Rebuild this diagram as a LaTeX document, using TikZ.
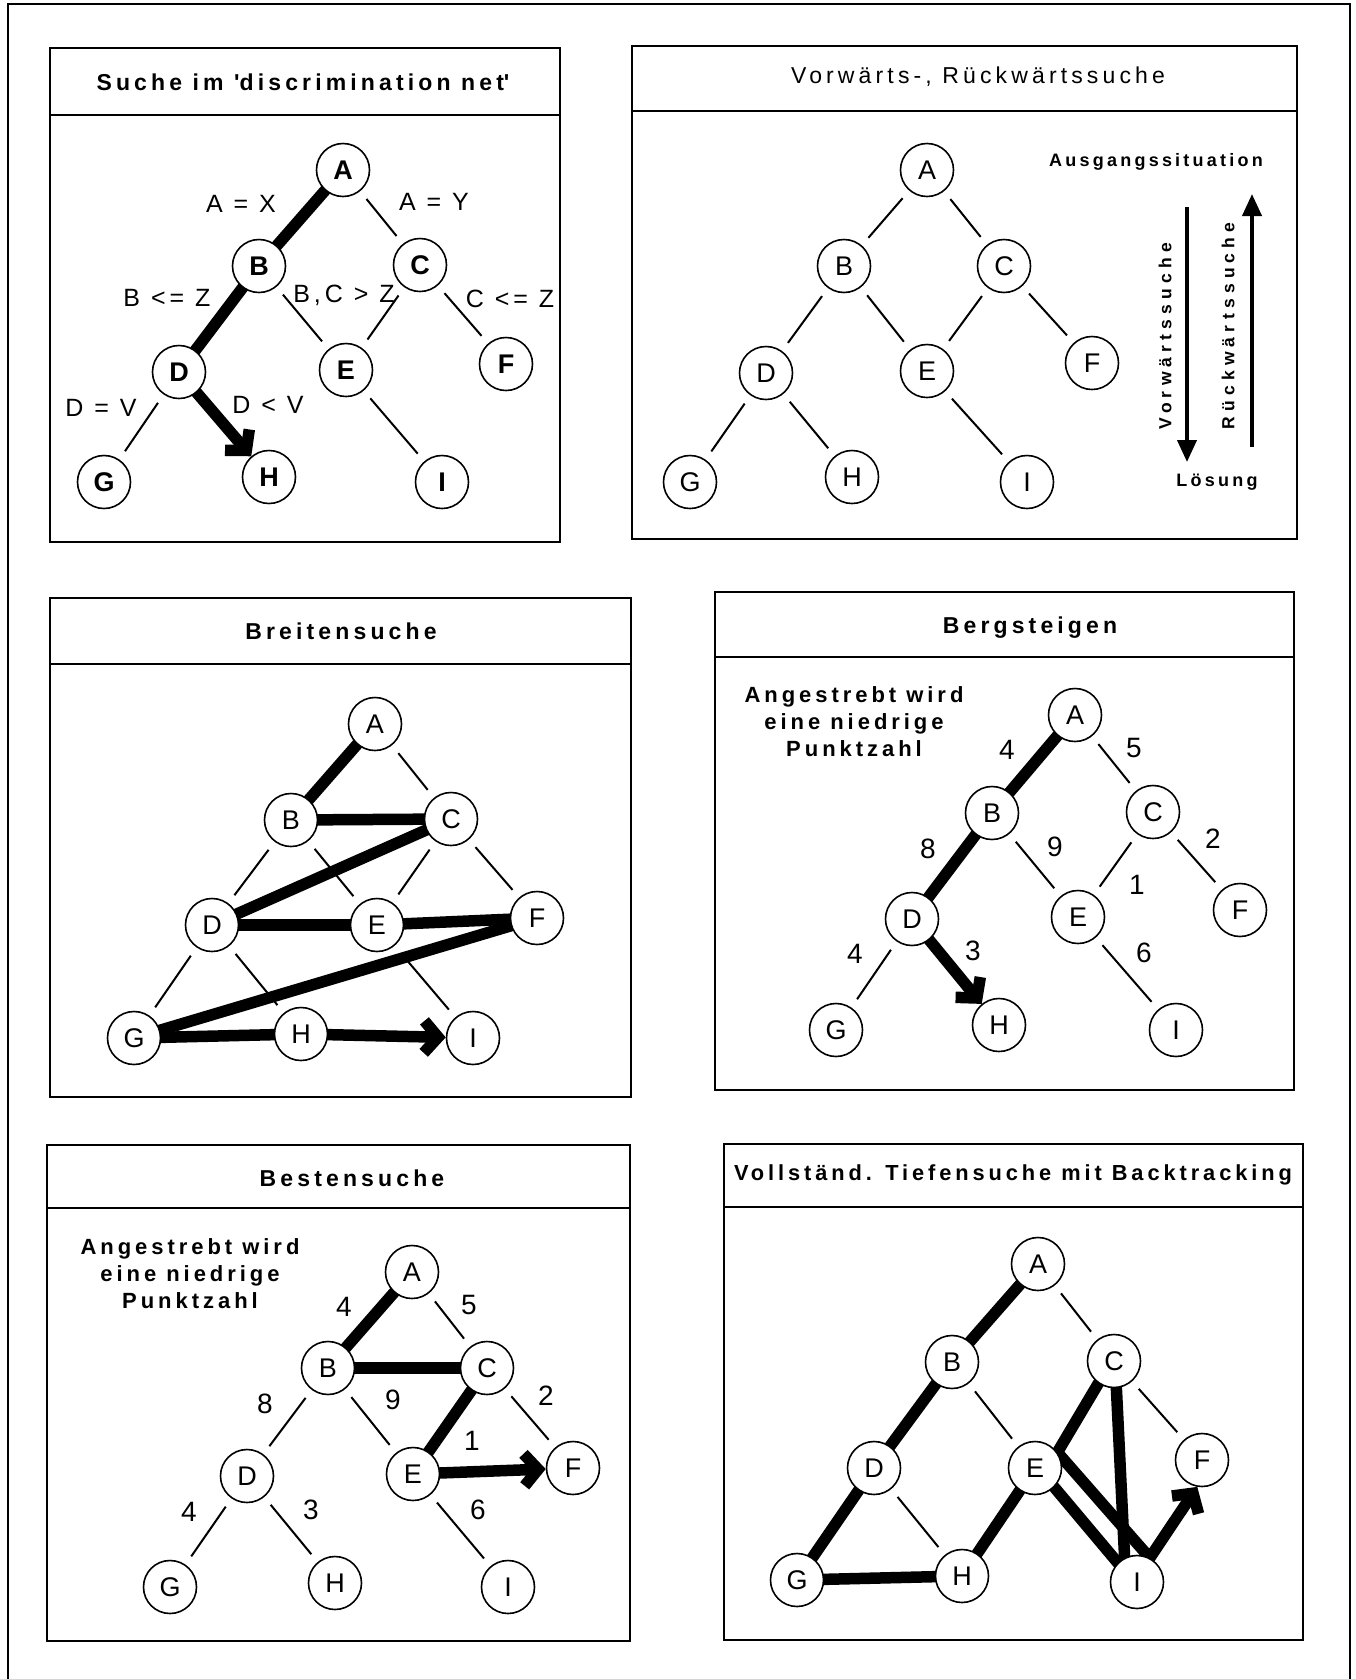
\documentclass[tikz,border=0pt]{standalone}
\usepackage{fontspec}
\setmainfont{Liberation Sans}
\newfontfamily\spc[LetterSpace=18]{Liberation Sans}
\newfontfamily\spcw[LetterSpace=30]{Liberation Sans}
\newfontfamily\lbl[LetterSpace=16]{Liberation Sans}
\usetikzlibrary{arrows.meta}
\pgfdeclarelayer{bg}
\pgfsetlayers{bg,main}
\tikzset{
  box/.style={draw, line width=1.8pt},
  frame/.style={line width=2pt},
  nd/.style={circle, draw, line width=1.6pt, fill=white, minimum size=53pt, inner sep=0pt, font=\fontsize{27}{27}\selectfont},
  ndb/.style={nd, font=\fontsize{27}{27}\selectfont\bfseries},
  te/.style={line width=2pt, shorten <=10pt, shorten >=10pt},
  tk/.style={line width=11.5pt, line cap=round},
  tka/.style={line width=11.5pt, line cap=round, line join=round, -{Straight Barb[length=14pt,width=32pt]}},
  ttl/.style={font=\spc\bfseries\fontsize{23}{26}\selectfont, inner sep=0pt},
  ttls/.style={font=\spc\bfseries\fontsize{21.8}{26}\selectfont, inner sep=0pt},
  ttlr/.style={font=\spc\fontsize{23}{26}\selectfont, inner sep=0pt},
  elab/.style={font=\lbl\fontsize{25}{25}\selectfont, inner sep=0pt},
  num/.style={font=\fontsize{28}{28}\selectfont, inner sep=0pt},
  note/.style={font=\spc\bfseries\fontsize{22}{27}\selectfont, align=center, inner sep=0pt},
  sml/.style={font=\spc\bfseries\fontsize{18}{20}\selectfont, inner sep=0pt},
  vt/.style={font=\spcw\bfseries\fontsize{17.5}{20}\selectfont, inner sep=0pt, rotate=90},
  bigarrow/.style={line width=4pt, -{Triangle[length=22pt,width=19pt]}}
}
\begin{document}
\begin{tikzpicture}[x=1pt,y=-1pt]
\useasboundingbox (0,0) rectangle (1356,1679);
% outer frame
\draw[frame] (8,1679) -- (8,4) -- (1350,4) -- (1350,1679);

% ================= Panel 1 =================
\draw[box] (50,48) rectangle (560,542);
\draw[box] (50,115) -- (560,115);
\node[ttl] (t1) at (303,82) {Suche im \textquotesingle discrimination net\textquotesingle};
\node[ndb] (p1A) at (343,170) {A};
\node[ndb] (p1B) at (259,266) {B};
\node[ndb] (p1C) at (420,265) {C};
\node[ndb] (p1D) at (179,372) {D};
\node[ndb] (p1E) at (346,370) {E};
\node[ndb] (p1F) at (506,364) {F};
\node[ndb] (p1G) at (104,482) {G};
\node[ndb] (p1H) at (269,477) {H};
\node[ndb] (p1I) at (442,482) {I};
\begin{pgfonlayer}{bg}
\draw[tk] (p1A) -- (p1B);
\draw[tk] (p1B) -- (p1D);
\draw[tka] (p1D) -- (p1H);
\draw[te] (p1A) -- (p1C);
\draw[te] (p1B) -- (p1E);
\draw[te] (p1C) -- (p1E);
\draw[te] (p1C) -- (p1F);
\draw[te] (p1D) -- (p1G);
\draw[te] (p1E) -- (p1I);
\end{pgfonlayer}
\node[elab] (l1ax) at (241,204) {A = X};
\node[elab] (l1ay) at (434,202) {A = Y};
\node[elab] (l1bz) at (167,298) {B <= Z};
\node[elab] (l1bc) at (344,295) {B,C > Z};
\node[elab] (l1cz) at (510,299) {C <= Z};
\node[elab] (l1dv) at (101,408) {D = V};
\node[elab] (l1dl) at (268,405) {D < V};

% ================= Panel 2 =================
\draw[box] (632,46) rectangle (1297,539);
\draw[box] (632,111) -- (1297,111);
\node[ttlr] (t2) at (978,77) {Vorwärts-, Rückwärtssuche};
\node[nd] (p2A) at (927,170) {A};
\node[nd] (p2B) at (844,266) {B};
\node[nd] (p2C) at (1004,266) {C};
\node[nd] (p2D) at (766,373) {D};
\node[nd] (p2E) at (927,371) {E};
\node[nd] (p2F) at (1092,363) {F};
\node[nd] (p2G) at (690,482) {G};
\node[nd] (p2H) at (852,477) {H};
\node[nd] (p2I) at (1027,482) {I};
\begin{pgfonlayer}{bg}
\draw[te] (p2A) -- (p2B);
\draw[te] (p2A) -- (p2C);
\draw[te] (p2B) -- (p2D);
\draw[te] (p2B) -- (p2E);
\draw[te] (p2C) -- (p2E);
\draw[te] (p2C) -- (p2F);
\draw[te] (p2D) -- (p2G);
\draw[te] (p2D) -- (p2H);
\draw[te] (p2E) -- (p2I);
\end{pgfonlayer}
\node[sml] (aus) at (1156,162) {Ausgangssituation};
\node[sml] (los) at (1217,482) {Lösung};
\coordinate (v1) at (1187,207);
\coordinate (v2) at (1187,462);
\coordinate (r1) at (1252,447);
\coordinate (r2) at (1252,194);
\draw[bigarrow] (v1) -- (v2);
\draw[bigarrow] (r1) -- (r2);
\node[vt] (vws) at (1165,336) {Vorwärtssuche};
\node[vt] (rws) at (1228,326) {Rückwärtssuche};

% ================= Panel 3 =================
\draw[box] (50,598) rectangle (631,1097);
\draw[box] (50,664) -- (631,664);
\node[ttl] (t3) at (341,631) {Breitensuche};
\node[nd] (p3A) at (375,724) {A};
\node[nd] (p3B) at (291,820) {B};
\node[nd] (p3C) at (451,819) {C};
\node[nd] (p3D) at (212,925) {D};
\node[nd] (p3E) at (377,925) {E};
\node[nd] (p3F) at (537,918) {F};
\node[nd] (p3G) at (134,1038) {G};
\node[nd] (p3H) at (301,1034) {H};
\node[nd] (p3I) at (473,1038) {I};
\begin{pgfonlayer}{bg}
\draw[te] (p3A) -- (p3C);
\draw[te] (p3B) -- (p3D);
\draw[te] (p3B) -- (p3E);
\draw[te] (p3C) -- (p3E);
\draw[te] (p3C) -- (p3F);
\draw[te] (p3D) -- (p3G);
\draw[te] (p3D) -- (p3H);
\draw[te] (p3E) -- (p3I);
\draw[tk] (p3A) -- (p3B);
\draw[tk] (p3B) -- (p3C);
\draw[tk] (p3C) -- (p3D);
\draw[tk] (p3D) -- (p3E);
\draw[tk] (p3E) -- (p3F);
\draw[tk] (p3F) -- (p3G);
\draw[tk] (p3G) -- (p3H);
\draw[tka] (p3H) -- (p3I);
\end{pgfonlayer}

% ================= Panel 4 =================
\draw[box] (715,592) rectangle (1294,1090);
\draw[box] (715,657) -- (1294,657);
\node[ttl] (t4) at (1030,628) {Bergsteigen};
\node[note] (n4) at (854,722) {Angestrebt wird\\eine niedrige\\Punktzahl};
\node[nd] (p4A) at (1075,715) {A};
\node[nd] (p4B) at (992,813) {B};
\node[nd] (p4C) at (1153,812) {C};
\node[nd] (p4D) at (912,919) {D};
\node[nd] (p4E) at (1078,917) {E};
\node[nd] (p4F) at (1240,910) {F};
\node[nd] (p4G) at (836,1030) {G};
\node[nd] (p4H) at (999,1025) {H};
\node[nd] (p4I) at (1176,1030) {I};
\begin{pgfonlayer}{bg}
\draw[te] (p4A) -- (p4C);
\draw[te] (p4B) -- (p4E);
\draw[te] (p4C) -- (p4E);
\draw[te] (p4C) -- (p4F);
\draw[te] (p4D) -- (p4G);
\draw[te] (p4E) -- (p4I);
\draw[tk] (p4A) -- (p4B);
\draw[tk] (p4B) -- (p4D);
\draw[tka] (p4D) -- (p4H);
\end{pgfonlayer}
\node[num] (w4ab) at (1007,750) {4};
\node[num] (w4ac) at (1134,748) {5};
\node[num] (w4bd) at (928,849) {8};
\node[num] (w4be) at (1055,847) {9};
\node[num] (w4cf) at (1213,839) {2};
\node[num] (w4ce) at (1137,885) {1};
\node[num] (w4dg) at (855,954) {4};
\node[num] (w4dh) at (973,951) {3};
\node[num] (w4ei) at (1144,953) {6};

% ================= Panel 5 =================
\draw[box] (47,1145) rectangle (630,1641);
\draw[box] (47,1208) -- (630,1208);
\node[ttl] (t5) at (352,1178) {Bestensuche};
\node[note] (n5) at (190,1274) {Angestrebt wird\\eine niedrige\\Punktzahl};
\node[nd] (p5A) at (412,1272) {A};
\node[nd] (p5B) at (328,1368) {B};
\node[nd] (p5C) at (487,1368) {C};
\node[nd] (p5D) at (247,1476) {D};
\node[nd] (p5E) at (413,1474) {E};
\node[nd] (p5F) at (573,1468) {F};
\node[nd] (p5G) at (170,1587) {G};
\node[nd] (p5H) at (335,1583) {H};
\node[nd] (p5I) at (508,1587) {I};
\begin{pgfonlayer}{bg}
\draw[te] (p5A) -- (p5C);
\draw[te] (p5B) -- (p5D);
\draw[te] (p5B) -- (p5E);
\draw[te] (p5C) -- (p5F);
\draw[te] (p5D) -- (p5G);
\draw[te] (p5D) -- (p5H);
\draw[te] (p5E) -- (p5I);
\draw[tk] (p5A) -- (p5B);
\draw[tk] (p5B) -- (p5C);
\draw[tk] (p5C) -- (p5E);
\draw[tka] (p5E) -- (p5F);
\end{pgfonlayer}
\node[num] (w5ab) at (344,1307) {4};
\node[num] (w5ac) at (469,1305) {5};
\node[num] (w5bd) at (265,1404) {8};
\node[num] (w5be) at (393,1400) {9};
\node[num] (w5cf) at (546,1396) {2};
\node[num] (w5ce) at (472,1441) {1};
\node[num] (w5dg) at (189,1512) {4};
\node[num] (w5dh) at (311,1510) {3};
\node[num] (w5ei) at (478,1510) {6};

% ================= Panel 6 =================
\draw[box] (724,1144) rectangle (1303,1640);
\draw[box] (724,1207) -- (1303,1207);
\node[ttls] (t6) at (1013,1175) {Vollständ. Tiefensuche mit Backtracking};
\node[nd] (p6A) at (1038,1264) {A};
\node[nd] (p6B) at (952,1362) {B};
\node[nd] (p6C) at (1114,1361) {C};
\node[nd] (p6D) at (874,1468) {D};
\node[nd] (p6E) at (1035,1468) {E};
\node[nd] (p6F) at (1202,1460) {F};
\node[nd] (p6G) at (797,1580) {G};
\node[nd] (p6H) at (962,1576) {H};
\node[nd] (p6I) at (1137,1582) {I};
\begin{pgfonlayer}{bg}
\draw[te] (p6A) -- (p6C);
\draw[te] (p6B) -- (p6E);
\draw[te] (p6C) -- (p6F);
\draw[te] (p6D) -- (p6H);
\draw[tk] (p6A) -- (p6B);
\draw[tk] (p6B) -- (p6D);
\draw[tk] (p6D) -- (p6G);
\draw[tk] (p6G) -- (p6H);
\draw[tk] (p6H) -- (p6E);
\draw[tk] (p6E.-45) -- (p6I.135);
\draw[tk] (p6E.35) -- (p6C.235);
\draw[tk] (p6C.-85) -- (p6I.117);
\draw[tka] (p6E.35) -- (p6I.62) -- (p6F.-100);
\end{pgfonlayer}
\end{tikzpicture}
\end{document}
